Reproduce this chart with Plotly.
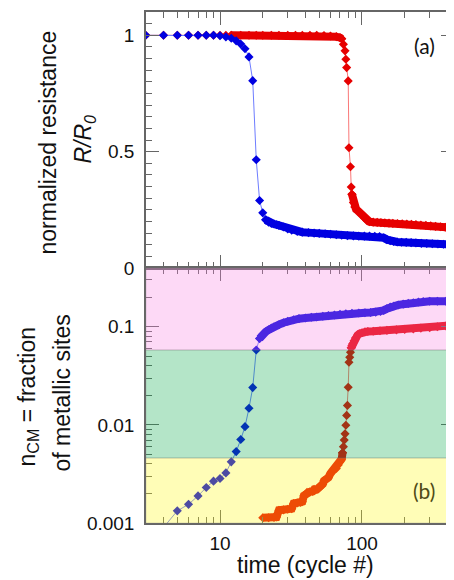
import math
import plotly.graph_objects as go

# ---------------- data ----------------
# Panel (a): normalized resistance R/R0
red_R_cyc_start = [3, 4, 5, 6, 7, 8, 9, 10, 11, 12]
red_R_start = [1.0, 1.0, 1.0, 1.0, 1.0, 1.0, 1.0, 1.0, 1.0, 1.0]
red_R_cyc_plateau = [12, 14, 16, 18, 20, 23, 26, 30, 34, 38, 43, 48, 54, 60, 66, 70, 72]
red_R_plateau = [1.0, 1.0, 1.0, 1.0, 1.0, 1.0, 1.0, 1.0, 1.0, 1.0, 1.0, 1.0, 0.999, 0.997, 0.994, 0.99, 0.985]
red_R_cyc_drop = [72, 74, 76, 77, 78, 80, 81, 83, 84, 85]
red_R_drop = [0.985, 0.961, 0.933, 0.897, 0.861, 0.804, 0.517, 0.435, 0.348, 0.317]
red_R_cyc_tail = [85, 87, 89, 91, 94, 97, 100, 104, 108, 113, 120, 128, 136, 145, 155, 165, 178,
                  192, 207, 223, 240, 260, 282, 305, 330, 357, 386, 415, 445]
red_R_tail = [0.317, 0.281, 0.262, 0.252, 0.245, 0.236, 0.228, 0.215, 0.204, 0.199, 0.197, 0.196,
              0.195, 0.194, 0.193, 0.192, 0.191, 0.190, 0.189, 0.188, 0.187, 0.185, 0.183, 0.181,
              0.179, 0.177, 0.175, 0.174, 0.173]

blue_R_cyc_drop = [3, 4, 5, 6, 7, 8, 9, 10, 11, 12, 13, 14, 15, 16, 17, 18, 19, 20, 21]
blue_R_drop = [1.0, 1.0, 1.0, 1.0, 1.0, 1.0, 1.0, 0.998, 0.993, 0.987, 0.976, 0.962, 0.942,
               0.907, 0.805, 0.465, 0.29, 0.237, 0.207]
blue_R_cyc_tail = [21, 22, 23, 24, 25, 26, 28, 30, 32, 35, 38, 42, 46, 50, 55, 60, 66, 72, 79, 87,
                   95, 104, 113, 123, 133, 142, 150, 158, 167, 177, 190, 205, 222, 240, 262, 286,
                   313, 343, 375, 410, 445]
blue_R_tail = [0.207, 0.197, 0.192, 0.189, 0.186, 0.183, 0.176, 0.168, 0.162, 0.157, 0.154, 0.152,
               0.150, 0.149, 0.147, 0.145, 0.143, 0.141, 0.139, 0.138, 0.137, 0.137, 0.137, 0.136,
               0.135, 0.130, 0.122, 0.117, 0.114, 0.112, 0.111, 0.110, 0.109, 0.108, 0.106, 0.105,
               0.104, 0.103, 0.102, 0.102, 0.101]

# Panel (b): n_CM = fraction of metallic sites
blue_n_cyc_rise = [4, 5, 6, 7, 8, 9, 10, 11, 12, 13, 14, 15, 16, 17, 18, 19]
blue_n_rise = [0.0009, 0.00133, 0.00155, 0.00189, 0.0023, 0.00267, 0.00284, 0.00324, 0.0042,
               0.00534, 0.0071, 0.0096, 0.0148, 0.024, 0.058, 0.076]
blue_n_cyc_tail = [19, 20, 21, 22, 23, 24, 26, 28, 30, 33, 36, 40, 44, 48, 53, 58, 64, 70, 77, 85,
                   95, 105, 115, 125, 135, 142, 150, 158, 168, 180, 195, 212, 230, 250, 270, 300,
                   340, 390, 445]
blue_n_tail = [0.076, 0.084, 0.089, 0.093, 0.097, 0.100, 0.105, 0.110, 0.114, 0.118, 0.121, 0.123,
               0.125, 0.126, 0.128, 0.130, 0.132, 0.134, 0.136, 0.137, 0.138, 0.139, 0.140, 0.141,
               0.143, 0.147, 0.153, 0.159, 0.163, 0.167, 0.170, 0.173, 0.176, 0.179, 0.181, 0.182,
               0.182, 0.182, 0.182]

red_n_cyc_early = [20, 22, 24, 25, 26, 28, 30, 32, 33, 35, 37, 38, 39, 41, 43, 45, 46, 48, 50, 52,
                   53, 54, 56, 58, 60, 62, 64, 66, 68, 70, 72, 73]
red_n_early = [0.00113, 0.00113, 0.00114, 0.00115, 0.00135, 0.00136, 0.00138, 0.0014, 0.00158,
               0.0016, 0.00162, 0.00165, 0.0019, 0.00205, 0.00208, 0.0021, 0.0022, 0.0022,
               0.00228, 0.0024, 0.0025, 0.0027, 0.0028, 0.0029, 0.0032, 0.0034, 0.0035, 0.0036,
               0.0039, 0.0042, 0.0045, 0.0052]
red_n_cyc_rise = [73, 74, 75, 76, 77, 78, 79, 80, 81, 82, 83, 84]
red_n_rise = [0.0052, 0.006, 0.007, 0.0081, 0.0099, 0.0125, 0.0158, 0.0242, 0.0435, 0.0488,
              0.055, 0.061]
red_n_cyc_tail = [84, 85, 86, 88, 90, 93, 96, 100, 105, 110, 120, 134, 150, 175, 200, 230, 260,
                  300, 340, 390, 445]
red_n_tail = [0.061, 0.064, 0.067, 0.072, 0.077, 0.082, 0.085, 0.087, 0.089, 0.0895, 0.090, 0.091,
              0.092, 0.093, 0.094, 0.095, 0.097, 0.098, 0.100, 0.102, 0.104]

# colour bands of panel (b)
band_yellow_top = 0.0046
band_pink_bottom = 0.058

# ---------------- styling ----------------
BLUE = "rgb(0,0,225)"
RED = "rgb(230,0,0)"
BLUE_LINE = "rgb(110,125,255)"
RED_LINE = "rgb(250,120,120)"
AXC = "#666"
FONT = "Liberation Sans, Arial, sans-serif"

X_RANGE = [math.log10(3.01), math.log10(445)]
Y2_RANGE = [0, 1.1]
Y_RANGE = [-3, -0.401]

fig = go.Figure()


def add_part(x, y, color, linecolor, width, xa, ya):
    fig.add_trace(go.Scatter(
        x=x, y=y, mode="lines+markers", xaxis=xa, yaxis=ya,
        marker=dict(symbol="diamond", size=7, color=color, line=dict(width=0)),
        line=dict(color=linecolor, width=width),
        showlegend=False, hoverinfo="skip"))


# red first, blue on top
add_part(red_R_cyc_start, red_R_start, RED, RED_LINE, 1, "x2", "y2")
add_part(red_R_cyc_plateau, red_R_plateau, RED, RED, 8, "x2", "y2")
add_part(red_R_cyc_drop, red_R_drop, RED, RED_LINE, 1, "x2", "y2")
add_part(red_R_cyc_tail, red_R_tail, RED, RED, 8, "x2", "y2")
add_part(blue_R_cyc_drop, blue_R_drop, BLUE, BLUE_LINE, 1, "x2", "y2")
add_part(blue_R_cyc_tail, blue_R_tail, BLUE, BLUE, 8, "x2", "y2")

add_part(red_n_cyc_early, red_n_early, RED, RED, 8, "x", "y")
add_part(red_n_cyc_rise, red_n_rise, RED, RED_LINE, 1, "x", "y")
add_part(red_n_cyc_tail, red_n_tail, RED, RED, 8, "x", "y")
add_part(blue_n_cyc_rise, blue_n_rise, BLUE, BLUE_LINE, 1, "x", "y")
add_part(blue_n_cyc_tail, blue_n_tail, BLUE, BLUE, 8, "x", "y")

x_major = [10, 100]
x_minor = [3, 4, 5, 6, 7, 8, 9, 20, 30, 40, 50, 60, 70, 80, 90, 200, 300, 400]
tickfont = dict(family=FONT, size=19, color="#111")

xcommon = dict(type="log", range=X_RANGE, tickmode="array", tickvals=x_major,
               ticks="inside", ticklen=13, tickwidth=1, tickcolor=AXC,
               minor=dict(tickmode="array", tickvals=x_minor, ticks="inside", ticklen=6,
                          tickwidth=1, tickcolor=AXC),
               showline=True, linecolor=AXC, linewidth=1.5, mirror="ticks",
               showgrid=False, zeroline=False)

# the page body has an 8 px margin: shift the figure margins so the plot area
# sits at x 146..454, y 10..523 of the window
fig.update_layout(
    width=454, height=580,
    margin=dict(l=138, r=8, t=2, b=65),
    paper_bgcolor="white", plot_bgcolor="white",
    xaxis=dict(domain=[0, 1], anchor="y", ticktext=["10", "100"], tickfont=tickfont,
               ticklabelstandoff=2, **xcommon),
    xaxis2=dict(domain=[0, 1], anchor="y2", matches="x", showticklabels=False, **xcommon),
    yaxis=dict(domain=[0, 0.499], anchor="x", type="log", range=Y_RANGE,
               tickmode="array", tickvals=[0.001, 0.01, 0.1], ticktext=["0.001", "0.01", "0.1"],
               ticks="inside", ticklen=13, tickwidth=1, tickcolor=AXC,
               minor=dict(tickmode="array",
                          tickvals=[0.002, 0.003, 0.004, 0.005, 0.006, 0.007, 0.008, 0.009,
                                    0.02, 0.03, 0.04, 0.05, 0.06, 0.07, 0.08, 0.09, 0.2, 0.3],
                          ticks="inside", ticklen=6, tickwidth=1, tickcolor=AXC),
               showline=True, linecolor=AXC, linewidth=1.5, mirror="ticks",
               showgrid=False, zeroline=False, tickfont=tickfont, ticklabelstandoff=6),
    yaxis2=dict(domain=[0.499, 1], anchor="x2", range=Y2_RANGE,
                tickmode="array", tickvals=[0, 0.5, 1], ticktext=["0", "0.5", "1"],
                ticks="inside", ticklen=13, tickwidth=1, tickcolor=AXC,
                minor=dict(dtick=0.05, ticks="inside", ticklen=6, tickwidth=1, tickcolor=AXC),
                showline=True, linecolor=AXC, linewidth=1.5, mirror="ticks",
                showgrid=False, zeroline=False, tickfont=tickfont, ticklabelstandoff=6),
    # unlabeled long ticks at 0.25 / 0.75 of panel (a)
    yaxis3=dict(overlaying="y2", anchor="x2", range=Y2_RANGE, tickmode="array",
                tickvals=[0.25, 0.75], showticklabels=False, ticks="inside", ticklen=13,
                tickwidth=1, tickcolor=AXC, showline=False, showgrid=False, zeroline=False,
                mirror="ticks"),
)


def yfrac(v):
    return (math.log10(v) - Y_RANGE[0]) / (Y_RANGE[1] - Y_RANGE[0])


# translucent colour bands drawn above the data (they tint the markers)
bands = [
    (0.0, yfrac(band_yellow_top), "rgba(255,248,15,0.30)"),
    (yfrac(band_yellow_top), yfrac(band_pink_bottom), "rgba(5,170,72,0.30)"),
    (yfrac(band_pink_bottom), 1.0, "rgba(248,128,225,0.30)"),
]
for y0, y1, col in bands:
    fig.add_shape(type="rect", xref="x domain", yref="y domain", x0=0, x1=1, y0=y0, y1=y1,
                  fillcolor=col, line=dict(width=1, color="rgba(120,120,120,0.25)"),
                  layer="above")


def px_x(px):
    return (px - 146) / 308.0


def px_y(py):
    return (523 - py) / 513.0


title_font = dict(family=FONT, size=23, color="#111")
ann = [
    dict(text="normalized resistance", x=px_x(48), y=px_y(141), textangle=-90, font=title_font),
    dict(text="<i>R/R</i><sub><i>0</i></sub>", x=px_x(85), y=px_y(138), textangle=-90,
         font=title_font),
    dict(text="n<sub>CM</sub> = fraction", x=px_x(28), y=px_y(397), textangle=-90,
         font=title_font),
    dict(text="of metallic sites", x=px_x(62), y=px_y(393), textangle=-90, font=title_font),
    dict(text="time (cycle #)", x=px_x(305), y=px_y(565), font=title_font),
    dict(text="(a)", x=px_x(424), y=px_y(44), font=dict(family="Lato, sans-serif", size=21,
                                                          color="#111")),
    dict(text="(b)", x=px_x(424), y=px_y(490), font=dict(family="Lato, sans-serif", size=21,
                                                           color="#4f4b16")),
]
for a in ann:
    fig.add_annotation(xref="paper", yref="paper", showarrow=False, xanchor="center",
                       yanchor="middle", **a)

fig.write_html("out.html")
